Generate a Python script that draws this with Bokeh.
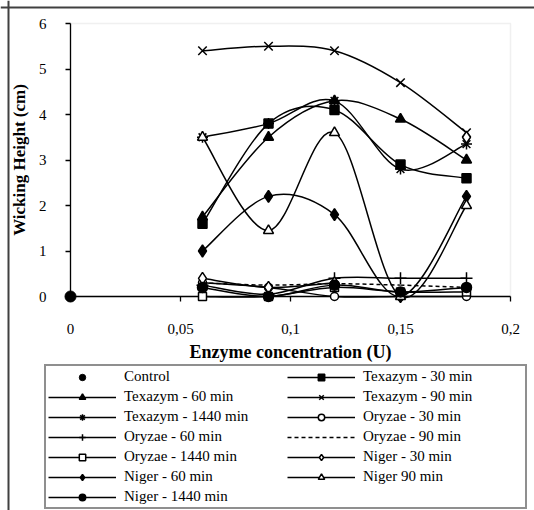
import math
from bokeh.plotting import figure
from bokeh.models import (Range1d, FixedTicker, Legend, LegendItem, Span, ColumnDataSource,
                          BoxAnnotation)
from bokeh.embed import file_html
from bokeh.resources import INLINE

# ---- data ----
conc = [0.06, 0.09, 0.12, 0.15, 0.18]
control_x = [0.0]
control_y = [0.0]
tex30 = [1.6, 3.8, 4.1, 2.9, 2.6]
tex60 = [1.75, 3.5, 4.3, 3.9, 3.0]
tex90 = [5.4, 5.5, 5.4, 4.7, 3.6]
tex1440 = [3.5, 3.8, 4.3, 2.8, 3.35]
ory30 = [0.3, 0.2, 0.0, 0.0, 0.0]
ory60 = [0.25, 0.05, 0.4, 0.4, 0.4]
ory90 = [0.3, 0.25, 0.28, 0.25, 0.2]
ory1440 = [0.0, 0.0, 0.2, 0.1, 0.1]
niger30 = [0.4, 0.2, 0.3, float("nan"), 3.5]
niger60 = [1.0, 2.2, 1.8, 0.0, 2.2]
niger90 = [3.5, 1.45, 3.6, 0.0, 2.0]
niger1440 = [0.2, 0.0, 0.25, 0.1, 0.2]

xtick_vals = [0, 0.05, 0.1, 0.15, 0.2]
xtick_labels = ["0", "0,05", "0,1", "0,15", "0,2"]
ytick_vals = [0, 1, 2, 3, 4, 5, 6]

FONT = "Liberation Serif"

# ---- layout (pixels) ----
W, H = 534, 510
X0_PX, X_SCALE = 70, 2200.0   # pixel of x=0, pixels per unit
Y0_PX, Y_SCALE = 296, 45.5    # pixel of y=0 (from top), pixels per unit
x_start, x_end = -X0_PX / X_SCALE, (W - X0_PX) / X_SCALE
y_start, y_end = -(H - Y0_PX) / Y_SCALE, Y0_PX / Y_SCALE

p = figure(width=W, height=H, x_range=Range1d(x_start, x_end), y_range=Range1d(y_start, y_end),
           output_backend="svg", toolbar_location=None,
           min_border_left=0, min_border_right=0, min_border_top=0, min_border_bottom=0)
p.grid.visible = False
p.outline_line_color = None
p.background_fill_color = "white"
p.border_fill_color = "white"

for ax in (p.xaxis[0], p.yaxis[0]):
    ax.axis_line_color = "black"
    ax.axis_line_width = 1.3
    ax.major_tick_line_color = "black"
    ax.major_tick_line_width = 1.3
    ax.major_tick_out = 5
    ax.major_tick_in = 0
    ax.minor_tick_line_color = None
    ax.major_label_text_font = FONT
    ax.major_label_text_font_size = "15px"
    ax.major_label_text_color = "black"
    ax.axis_label_text_font = FONT
    ax.axis_label_text_font_style = "bold"
    ax.axis_label_text_color = "black"
    ax.fixed_location = 0

p.xaxis.ticker = FixedTicker(ticks=xtick_vals)
p.xaxis.major_label_overrides = {v: l for v, l in zip(xtick_vals, xtick_labels)}
p.yaxis.ticker = FixedTicker(ticks=ytick_vals)
p.xaxis.bounds = (xtick_vals[0], xtick_vals[-1])
p.yaxis.bounds = (ytick_vals[0], ytick_vals[-1])
p.xaxis.axis_label = "Enzyme concentration (U)"
p.yaxis.axis_label = "Wicking Height (cm)"
p.xaxis.axis_label_text_font_size = "18px"
p.yaxis.axis_label_text_font_size = "17px"
p.xaxis.major_label_standoff = 22
p.xaxis.axis_label_standoff = 5
p.yaxis.major_label_standoff = 19
p.yaxis.axis_label_standoff = 7

# plot-area border (light grey) and outer chart frame
p.add_layout(BoxAnnotation(left=xtick_vals[0], right=xtick_vals[-1], bottom=ytick_vals[0],
                           top=ytick_vals[-1], fill_alpha=0, line_color="#cccccc",
                           line_width=1.5, level="underlay"))
p.add_layout(Span(location=(Y0_PX - 7) / Y_SCALE, dimension="width", line_color="#404040",
                  line_width=2))
p.add_layout(Span(location=(8 - X0_PX) / X_SCALE, dimension="height", line_color="#404040",
                  line_width=2))

T = 1.0 / 6.0


def bez(xs, ys):
    d = {k: [] for k in ("x0", "y0", "x1", "y1", "cx0", "cy0", "cx1", "cy1")}
    n = len(xs)
    ok = [not math.isnan(v) for v in ys]
    for i in range(n - 1):
        if not (ok[i] and ok[i + 1]):
            continue
        ax_, ay_ = xs[i], ys[i]
        bx_, by_ = xs[i + 1], ys[i + 1]
        px, py = (xs[i - 1], ys[i - 1]) if i >= 1 and ok[i - 1] else (ax_, ay_)
        nx, ny = (xs[i + 2], ys[i + 2]) if i + 2 < n and ok[i + 2] else (bx_, by_)
        d["x0"].append(ax_); d["y0"].append(ay_)
        d["x1"].append(bx_); d["y1"].append(by_)
        d["cx0"].append(ax_ + (bx_ - px) * T); d["cy0"].append(ay_ + (by_ - py) * T)
        d["cx1"].append(bx_ - (nx - ax_) * T); d["cy1"].append(by_ - (ny - ay_) * T)
    return d


# label, values, marker, size, filled, dash
series = [
    ("Texazym - 30 min", tex30, "square", 9, True, "solid"),
    ("Texazym - 60 min", tex60, "triangle", 10, True, "solid"),
    ("Texazym - 90 min", tex90, "x", 12, True, "solid"),
    ("Texazym - 1440 min", tex1440, "asterisk", 11, True, "solid"),
    ("Oryzae - 30 min", ory30, "circle", 8, False, "solid"),
    ("Oryzae - 60 min", ory60, "cross", 12, True, "solid"),
    ("Oryzae - 90 min", ory90, None, 0, True, "4 3"),
    ("Oryzae - 1440 min", ory1440, "square", 8, False, "solid"),
    ("Niger - 30 min", niger30, "diamond", 12, False, "solid"),
    ("Niger - 60 min", niger60, "diamond", 12, True, "solid"),
    ("Niger 90 min", niger90, "triangle", 10, False, "solid"),
    ("Niger - 1440 min", niger1440, "circle", 10, True, "solid"),
]

items = []
ctrl = p.scatter(control_x, control_y, marker="circle", size=11, fill_color="black",
                 line_color="black", level="overlay")
items.append(LegendItem(label="Control", renderers=[ctrl]))

for label, vals, marker, size, filled, dash in series:
    bz = p.bezier(source=ColumnDataSource(bez(conc, vals)), x0="x0", y0="y0", x1="x1", y1="y1",
                  cx0="cx0", cy0="cy0", cx1="cx1", cy1="cy1",
                  line_color="black", line_width=1.5, line_dash=dash, level="overlay")
    rends = [bz]
    if marker is not None:
        xs = [x for x, v in zip(conc, vals) if not math.isnan(v)]
        ys = [v for v in vals if not math.isnan(v)]
        sc = p.scatter(xs, ys, marker=marker, size=size, line_color="black", line_width=1.5,
                       fill_color="black" if filled else "white", level="overlay")
        rends.append(sc)
    items.append(LegendItem(label=label, renderers=rends))

legend = Legend(items=items, orientation="horizontal", ncols=2, location=(44, 1),
                glyph_width=68, glyph_height=16, label_height=16, spacing=3,
                label_standoff=8, label_width=160, padding=2, margin=0,
                border_line_color="#202020", border_line_width=2,
                label_text_font=FONT, label_text_font_size="15px", label_text_color="black")
p.add_layout(legend, "center")

open("out.html", "w").write(file_html(p, INLINE))
